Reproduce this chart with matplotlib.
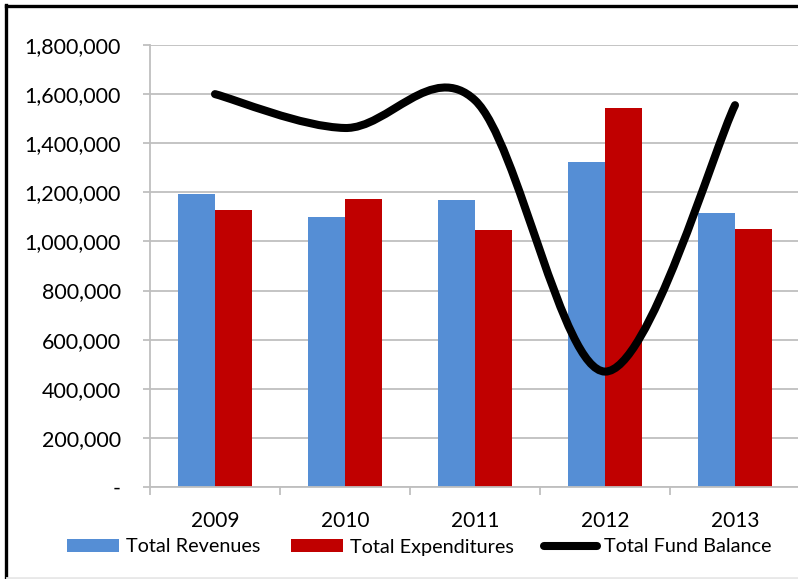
import numpy as np
import matplotlib.pyplot as plt
from matplotlib.path import Path
from matplotlib.patches import PathPatch, Patch
from matplotlib.lines import Line2D
import matplotlib.ticker as ticker

# ── Data ──────────────────────────────────────────────────────────────────────
years          = ["2009", "2010", "2011", "2012", "2013"]
revenues       = [1195000, 1100000, 1167000, 1322000, 1116000]
expenditures   = [1129000, 1172000, 1048000, 1544000, 1051000]
fund_balance   = [1600000, 1462000, 1575000, 470000, 1555000]

BLUE  = "#558ED5"
RED   = "#C00000"
GRID  = "#BFBFBF"

plt.rcParams["font.family"] = ["Lato", "DejaVu Sans"]

fig = plt.figure(figsize=(7.98, 5.79), dpi=100, facecolor="white")
ax = fig.add_axes([150 / 798, 1 - 487 / 579, 650 / 798, 442 / 579])

x = np.arange(len(years))
w = 0.285
ax.bar(x - w / 2, revenues, width=w, color=BLUE, zorder=2)
ax.bar(x + w / 2, expenditures, width=w, color=RED, zorder=2)


# smoothed line, Excel style (Catmull-Rom as cubic bezier)
def smooth_path(xs, ys):
    pts = np.column_stack([xs, ys]).astype(float)
    n = len(pts)
    verts = [pts[0]]
    codes = [Path.MOVETO]
    for i in range(n - 1):
        p0 = pts[i - 1] if i > 0 else pts[i]
        p1 = pts[i]
        p2 = pts[i + 1]
        p3 = pts[i + 2] if i + 2 < n else pts[i + 1]
        c1 = p1 + (p2 - p0) / 6
        c2 = p2 - (p3 - p1) / 6
        verts += [c1, c2, p2]
        codes += [Path.CURVE4] * 3
    return Path(verts, codes)


line = PathPatch(smooth_path(x, fund_balance), facecolor="none",
                 edgecolor="black", linewidth=5.8, capstyle="round",
                 joinstyle="round", zorder=3)
ax.add_patch(line)

ax.set_xlim(-0.5, len(years) - 0.5)
ax.set_ylim(0, 1800000)
ax.yaxis.set_major_locator(ticker.MultipleLocator(200000))
ax.yaxis.set_major_formatter(
    ticker.FuncFormatter(lambda v, p: "-" if v == 0 else f"{int(v):,}"))
ax.set_xticks(x)
ax.set_xticklabels(years)
ax.set_xticks(np.arange(len(years) + 1) - 0.5, minor=True)

ax.grid(axis="y", color=GRID, linewidth=1.3, zorder=0)
ax.set_axisbelow(True)
for s in ["top", "right"]:
    ax.spines[s].set_visible(False)
for s in ["left", "bottom"]:
    ax.spines[s].set_color(GRID)
    ax.spines[s].set_linewidth(1.3)

ax.tick_params(axis="y", length=5, width=1.3, color=GRID, pad=16,
               labelsize=15.5, labelcolor="black")
ax.tick_params(axis="x", which="major", length=0, pad=17, labelsize=15)
ax.tick_params(axis="x", which="minor", length=6, width=1.3, color=GRID)

handles = [
    Patch(facecolor=BLUE, label="Total Revenues"),
    Patch(facecolor=RED, label="Total Expenditures"),
    Line2D([], [], color="black", linewidth=5.8, solid_capstyle="round",
           label="Total Fund Balance"),
]
fig.legend(handles=handles, loc="center", bbox_to_anchor=(419 / 798, 1 - 547 / 579),
           ncol=3, frameon=False, fontsize=14.3, handlelength=2.66,
           handleheight=0.6, handletextpad=0.35, columnspacing=1.5)

# chart frame (cropped at right/bottom)
fig.add_artist(Line2D([5.5 / 798, 5.5 / 798], [0, 1 - 5 / 579], color="black",
                      linewidth=2.4, transform=fig.transFigure))
fig.add_artist(Line2D([5.5 / 798, 1], [1 - 5.5 / 579, 1 - 5.5 / 579], color="black",
                      linewidth=2.4, transform=fig.transFigure))
fig.add_artist(Line2D([7 / 798, 1], [1.5 / 579, 1.5 / 579], color="#E8E8E8",
                      linewidth=2, transform=fig.transFigure))

fig.savefig("out.png", dpi=100, facecolor="white")
